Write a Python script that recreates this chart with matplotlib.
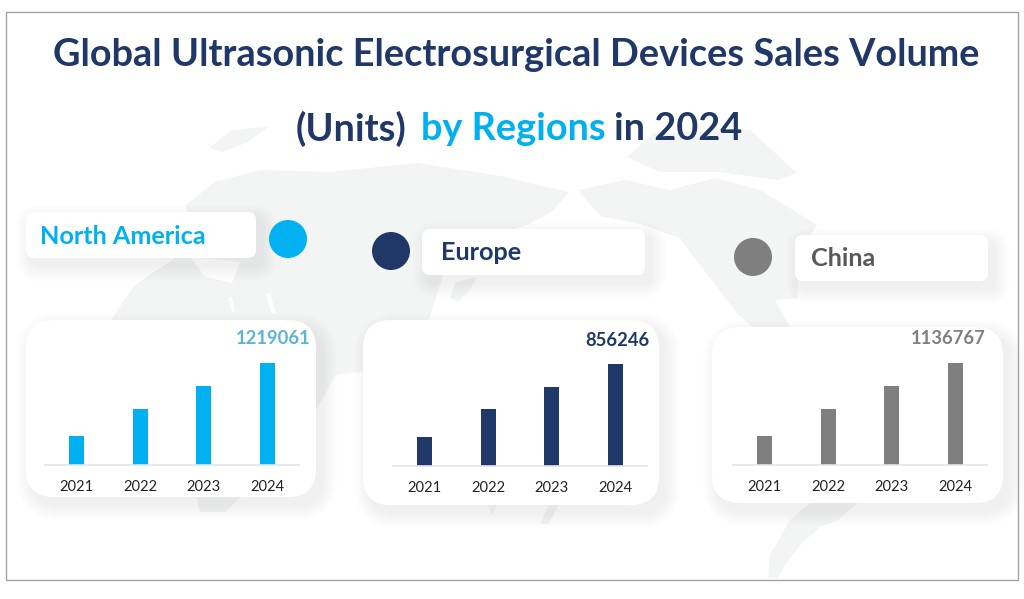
import matplotlib
matplotlib.use("Agg")
import matplotlib.pyplot as plt
from matplotlib.patches import FancyBboxPatch, Polygon, Circle, Rectangle

W, H = 1024, 599

years = ["2021", "2022", "2023", "2024"]
north_america = [342000, 672000, 943000, 1219061]
europe = [243000, 473000, 660000, 856246]
china = [319000, 627000, 879000, 1136767]

NAVY = "#1f3868"
CYAN = "#00b0f0"
GREY = "#7f7f7f"
LAND = "#f3f4f4"

# rough world map silhouette behind the cards, in pixels
land_shapes = [
    # africa + eurasia
    [(112, 318), (135, 285), (175, 258), (190, 245), (186, 205), (215, 182), (261, 170), (330, 172),
     (418, 163), (500, 176), (569, 192), (552, 212), (527, 225), (480, 240), (445, 268),
     (430, 317), (400, 345), (360, 372), (335, 375), (322, 400), (290, 450), (225, 512),
     (200, 512), (190, 470), (165, 410), (125, 380)],
    # north america
    [(578, 190), (625, 180), (670, 190), (715, 178), (760, 190), (817, 225), (800, 250),
     (797, 298), (775, 300), (790, 327), (752, 327), (737, 313), (700, 265), (680, 238),
     (640, 224), (600, 216)],
    # greenland and arctic islands
    [(627, 157), (653, 133), (750, 130), (797, 173), (778, 180), (720, 172), (660, 172)],
    [(209, 148), (232, 130), (268, 127), (248, 142), (222, 152)],
    # south america, lower part
    [(810, 503), (857, 503), (838, 520), (820, 527), (800, 545), (785, 565), (778, 578),
     (768, 578), (770, 555), (790, 520)],
    # japan
    [(450, 298), (456, 282), (477, 277), (470, 290), (458, 302)],
    # small islands under the europe card
    [(488, 505), (497, 505), (492, 515)],
    [(549, 505), (558, 505), (549, 524), (540, 524)],
]

# seas cut out of the land
sea_shapes = [
    [(190, 257), (240, 262), (232, 283), (205, 277)],
    [(229, 297), (232, 297), (235, 312), (232, 312)],
    [(266, 293), (270, 293), (276, 313), (271, 313)],
]


def draw_shadow_box(ax, x0, y0, x1, y1, radius, spread=30, dx=6, dy=8):
    for s in range(spread, 0, -2):
        ax.add_patch(FancyBboxPatch((x0 + dx - s / 2, y0 + dy - s / 2), x1 - x0 + s, y1 - y0 + s,
                                    boxstyle=f"round,pad=0,rounding_size={radius + s / 2}",
                                    fc="#8a8f95", ec="none", alpha=0.009, zorder=3))
    ax.add_patch(FancyBboxPatch((x0, y0), x1 - x0, y1 - y0,
                                boxstyle=f"round,pad=0,rounding_size={radius}",
                                fc="white", ec="none", zorder=4))


def bar_panel(fig, values, color, left, baseline):
    # 254 px wide plot, top of the tallest bar sits about 101 px over the baseline
    ax = fig.add_axes([left / W, (H - baseline) / H, 254 / W, 110 / H], zorder=2)
    ax.patch.set_alpha(0)
    ax.bar(range(len(years)), values, width=0.235, color=color)
    ax.set_xlim(-0.5, 3.5)
    ax.set_ylim(0, max(values) * 110 / 101.5)
    ax.set_xticks(range(len(years)), years, fontsize=10.6, color="#222222", family="Lato")
    ax.set_yticks([])
    ax.tick_params(axis="x", length=0, pad=11)
    for side in ["top", "left", "right"]:
        ax.spines[side].set_visible(False)
    ax.spines["bottom"].set_color("#e4e5e8")
    ax.spines["bottom"].set_linewidth(1.2)
    return ax


fig = plt.figure(figsize=(W / 100, H / 100), dpi=100, facecolor="white")
bg = fig.add_axes([0, 0, 1, 1], zorder=0)
bg.set_xlim(0, W)
bg.set_ylim(H, 0)
bg.axis("off")

for shape in land_shapes:
    bg.add_patch(Polygon(shape, closed=True, fc=LAND, ec="none", zorder=1))
for shape in sea_shapes:
    bg.add_patch(Polygon(shape, closed=True, fc="white", ec="none", zorder=2))

bg.add_patch(Rectangle((6, 12), 1012, 568, fc="none", ec="#a3a3a8", lw=1, zorder=6))

# title
title_font = dict(family="Lato", weight="bold", fontsize=27.3, va="center", zorder=7)
bg.text(516, 55, "Global Ultrasonic Electrosurgical Devices Sales Volume", color=NAVY, ha="center", **title_font)
bg.text(296, 129, "(Units)", color=NAVY, ha="left", **title_font)
bg.text(421, 129, "by Regions", color=CYAN, ha="left", **title_font)
bg.text(614, 129, "in 2024", color=NAVY, ha="left", **title_font)

# region name boxes and dots
draw_shadow_box(bg, 26, 212, 256, 258, 8)
draw_shadow_box(bg, 422, 229, 645, 275, 8)
draw_shadow_box(bg, 795, 235, 988, 281, 8)
label_font = dict(family="Lato", weight="bold", fontsize=18.2, va="center", ha="left", zorder=7)
bg.text(40, 237, "North America", color=CYAN, **label_font)
bg.text(441, 252, "Europe", color=NAVY, **label_font)
bg.text(811, 259, "China", color="#595959", **label_font)

bg.add_patch(Circle((288, 239), 19, fc=CYAN, ec="none", zorder=5))
bg.add_patch(Circle((391, 251), 19, fc=NAVY, ec="none", zorder=5))
bg.add_patch(Circle((753, 257), 19, fc=GREY, ec="none", zorder=5))

# cards
draw_shadow_box(bg, 26, 320, 316, 497, 28)
draw_shadow_box(bg, 363, 320, 659, 505, 28)
draw_shadow_box(bg, 712, 327, 1003, 503, 28)

bar_panel(fig, north_america, CYAN, 45, 464.5)
bar_panel(fig, europe, NAVY, 393, 465.5)
bar_panel(fig, china, GREY, 733, 464.5)

value_font = dict(family="Lato", weight="bold", fontsize=13.2, va="center", ha="right", zorder=7)
bg.text(311, 339, f"{north_america[-1]}", color="#5ab4d2", **value_font)
bg.text(649, 340, f"{europe[-1]}", color=NAVY, **value_font)
bg.text(986, 339, f"{china[-1]}", color=GREY, **value_font)

fig.savefig("out.png", dpi=100)
